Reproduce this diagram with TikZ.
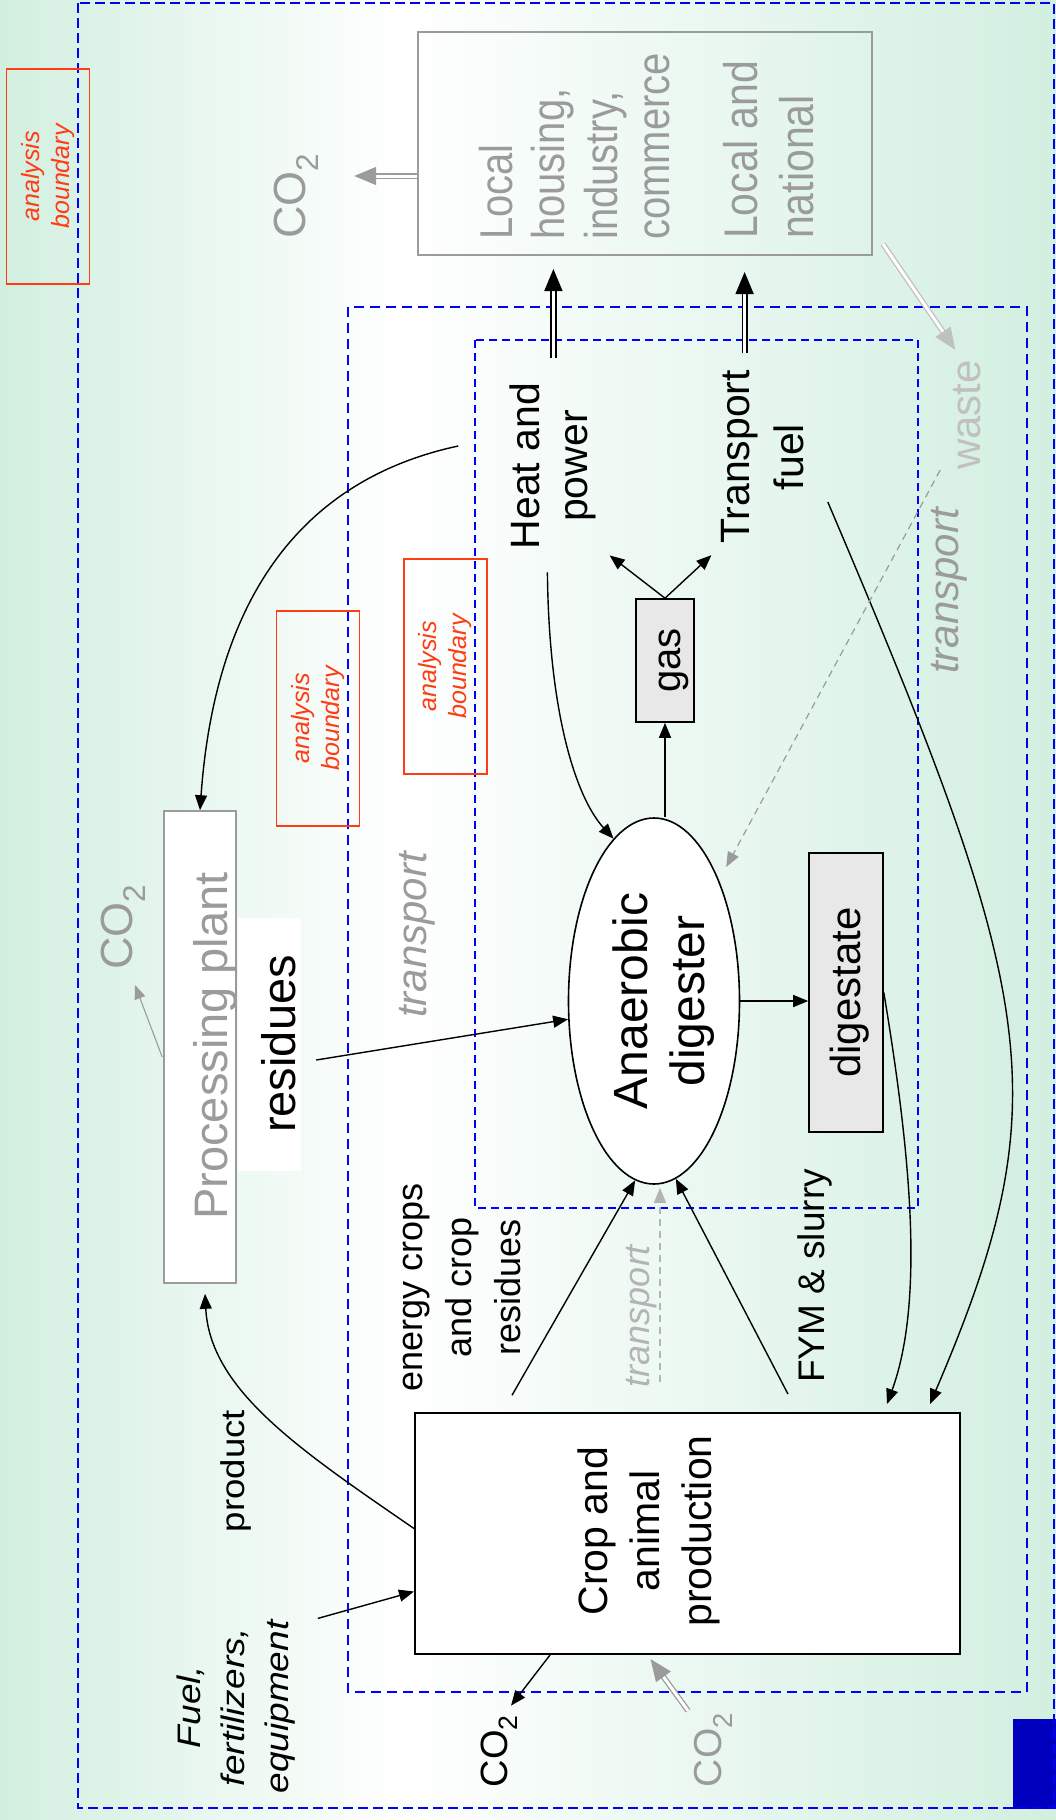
\documentclass[tikz,border=0pt]{standalone}
\usepackage{fontspec}
\setmainfont{Liberation Sans}
\usepackage{graphicx}
\usetikzlibrary{arrows.meta,shapes.geometric,calc}

\definecolor{bggreen}{RGB}{210,239,224}
\definecolor{bndblue}{RGB}{0,0,255}
\definecolor{bndred}{RGB}{255,60,20}
\definecolor{txtgray}{RGB}{155,155,155}
\definecolor{wastegray}{RGB}{192,192,192}
\definecolor{palegray}{RGB}{180,180,180}
\definecolor{boxgray}{RGB}{232,232,232}
\definecolor{logoblue}{RGB}{0,0,190}

\newcommand{\fsz}[2]{\fontsize{#1}{#2}\selectfont}
\newcommand{\vtext}[2][1]{\rotatebox{90}{\scalebox{1}[#1]{\begin{tabular}{@{}c@{}}#2\end{tabular}}}}
\newcommand{\vtextl}[2][1]{\rotatebox{90}{\scalebox{1}[#1]{\begin{tabular}{@{}l@{}}#2\end{tabular}}}}

\tikzset{
  lbl/.style={inner sep=0pt},
  flow/.style={line width=1.4pt,-{Triangle[length=15pt,width=12pt]}},
  thinflow/.style={draw=txtgray,line width=1.1pt,-{Triangle[length=14pt,width=11pt]}},
  dashflow/.style={flow,draw=txtgray,line width=1.2pt,dash pattern=on 7pt off 5pt},
  dblflow/.style={double=white,double distance=3pt,line width=1.6pt,-{Triangle[length=22pt,width=18pt]}},
  dblgray/.style={dblflow,draw=txtgray,line width=1.3pt},
  dblwaste/.style={dblflow,draw=wastegray,line width=1.3pt},
  bndbox/.style={draw=bndred,line width=1.5pt,minimum width=83pt,minimum height=215pt,
    inner sep=0pt,text=bndred,font=\fsz{25}{30}\itshape},
  outerbnd/.style={draw=bndblue,line width=1.5pt,dash pattern=on 10pt off 5pt},
  midbnd/.style={draw=bndblue,line width=2.5pt,dash pattern=on 10pt off 6pt},
  innerbnd/.style={draw=bndblue,line width=1.6pt,dash pattern=on 8pt off 5pt},
  greybox/.style={draw,fill=boxgray,line width=1.6pt,inner sep=0pt},
}

\begin{document}
\begin{tikzpicture}[x=1pt,y=-1pt]
\useasboundingbox (0,0) rectangle (1056,1820);
% background
\shade[left color=bggreen,right color=white] (0,0) rectangle (400,1820);
\shade[left color=white,right color=bggreen] (400,0) rectangle (1056,1820);
\fill[logoblue] (1013,1719) rectangle (1056,1809);

% analysis boundaries
\draw[outerbnd] (78,3) rectangle (1054,1808);
\draw[midbnd] (348,307) rectangle (1027,1692);
\draw[innerbnd] (475,340) rectangle (918,1208);
\node[bndbox] (bound1) at (48,176.5) {\vtext{analysis\\boundary}};
\node[bndbox] (bound2) at (318,718.5) {\vtext{analysis\\boundary}};
\node[bndbox] (bound3) at (445.5,666.5) {\vtext{analysis\\boundary}};

% users
\node[draw=txtgray,line width=2pt,minimum width=454pt,minimum height=223pt] (local) at (645,143.5) {};
\node[lbl,anchor=south,text=txtgray,font=\fsz{40}{45.5}] (localta) at (580.6,240) {\vtextl[1.15]{Local\\housing,\\industry,\\commerce}};
\node[lbl,anchor=south,text=txtgray,font=\fsz{41}{49}] (localtb) at (774,239) {\vtextl[1.15]{Local and\\national}};
\node[lbl,text=txtgray,font=\fsz{45}{50}] (co2top) at (295,196) {\vtext{CO\textsubscript{2}}};

% digester plant
\node[lbl,font=\fsz{41}{48}] (hp) at (553.4,466) {\vtext{Heat and\\power}};
\node[lbl,font=\fsz{41}{54}] (tf) at (765.6,457) {\vtext{Transport\\fuel}};
\node[lbl,text=wastegray,font=\fsz{42}{48}] (waste) at (970.4,415) {\vtext{waste}};
\node[lbl,text=txtgray,font=\fsz{42}{48}\itshape] (trright) at (948.4,591) {\vtext{transport}};
\node[greybox,minimum width=58pt,minimum height=123pt] (gas) at (665,660.5) {};
\node[lbl,font=\fsz{40}{48}] (gast) at (671,660.5) {\vtext{gas}};
\node[draw,ellipse,fill=white,line width=1.6pt,inner sep=0pt,minimum width=171pt,minimum height=366pt] (ad) at (654,1001) {};
\node[lbl,font=\fsz{48}{57}] (adt) at (665,1001) {\vtext{Anaerobic\\digester}};
\node[greybox,minimum width=74pt,minimum height=279pt] (dig) at (846,992.5) {};
\node[lbl,font=\fsz{42}{48}] (digt) at (851,992.5) {\vtext{digestate}};

% processing
\node[draw=txtgray,fill=white,line width=1.6pt,minimum width=72pt,minimum height=472pt] (proc) at (200,1047) {};
\node[lbl,text=txtgray,font=\fsz{47}{52}] (proct) at (217,1046) {\vtext{Processing plant}};
\node[fill=white,inner sep=0pt,minimum width=63pt,minimum height=253pt] (resbox) at (269.5,1044.5) {};
\node[lbl,font=\fsz{47}{52}] (rest) at (285,1044) {\vtext{residues}};
\node[lbl,text=txtgray,font=\fsz{45}{50}] (co2proc) at (122,927) {\vtext{CO\textsubscript{2}}};
\node[lbl,text=txtgray,font=\fsz{42}{48}\itshape] (trmid) at (417,935) {\vtext{transport}};

% farm
\node[lbl,font=\fsz{36}{49}] (ecr) at (462,1287) {\vtext{energy crops\\and crop\\residues}};
\node[lbl,text=palegray,font=\fsz{36}{44}\itshape] (trbot) at (641,1316) {\vtext{transport}};
\node[lbl,font=\fsz{37}{44}] (fym) at (816,1276) {\vtext{FYM \& slurry}};
\node[draw,fill=white,line width=2pt,minimum width=545pt,minimum height=241pt] (crop) at (687.5,1533.5) {};
\node[lbl,font=\fsz{41}{52}] (cropt) at (649,1531) {\vtext{Crop and\\animal\\production}};
\node[lbl,font=\fsz{36.6}{44}] (product) at (237,1471) {\vtext[0.9]{product}};
\node[lbl,font=\fsz{37}{50}\itshape] (ffe) at (235.6,1707) {\vtext[0.88]{Fuel,\\fertilizers,\\equipment}};
\node[lbl,font=\fsz{38}{44}] (co2a) at (499,1751) {\vtext{CO\textsubscript{2}}};
\node[lbl,text=txtgray,font=\fsz{39}{44}] (co2b) at (713,1750) {\vtext{CO\textsubscript{2}}};

% flows
\draw[dblgray] ($(local.west)+(0,32.5)$) -- ($(co2top.east)+(34,-20)$);
\draw[dblflow,shorten <=25pt,shorten >=13pt] (hp.north) -- (hp.north |- local.south);
\draw[dblflow,shorten <=17pt,shorten >=16pt] ($(tf.north)+(-21,0)$) -- ($(tf.north |- local.south)+(-21,0)$);
\draw[dblwaste] ($(local.south east)+(10,-12)$) -- ($(waste.north)+(-15,-10)$);
\draw[flow] (gas.north) -- ($(hp.south east)+(8,6)$);
\draw[flow] (gas.north) -- ($(tf.south west)+(0,11)$);
\draw[flow] (gas.south |- ad.north) -- (gas.south);
\draw[flow] ($(hp.south)+(-6,23)$) .. controls (549,720) and (578,800) .. (ad.104);
\draw[flow] ($(hp.west)+(-47,-20)$) .. controls (300,480) and (215,600) .. (proc.north);
\draw[flow] ($(tf.east)+(8,45)$) .. controls (1040,1000) and (1060,1100) .. ($(crop.north east)+(-31,-8)$);
\draw[dashflow,shorten >=15pt] ($(waste.south west)+(-6,0)$) -- (ad);
\draw[flow] (ad.east) -- (ad.east -| dig.west);
\draw[flow] ($(resbox.east)+(15,15.5)$) -- (ad.192);
\draw[flow] ($(ecr.south)+(50,4)$) -- (ad.264);
\draw[dashflow,draw=palegray] ($(ad.south |- crop.north)+(6,-30)$) -- ($(ad.south)+(6,3)$);
\draw[flow] ($(fym.south)+(-28,11)$) -- (ad.277);
\draw[flow] (dig.east) .. controls (910,1150) and (925,1300) .. ($(crop.north east)+(-74,-8)$);
\draw[flow] ($(crop.west)+(0,-5)$) .. controls (300,1450) and (210,1390) .. ($(proc.south)+(5,10)$);
\draw[flow] ($(ffe.north east)+(16,-2)$) -- ($(crop.west)+(0,58)$);
\draw[flow] ($(crop.south west)+(136,0)$) -- ($(co2a.north)+(12,-9)$);
\draw[dblgray] ($(co2b.north)+(-25,-2)$) -- ($(crop.south)+(-37,4)$);
\draw[thinflow] ($(proc.west)+(-1,10)$) -- ($(co2proc.south)+(13,15)$);
\end{tikzpicture}
\end{document}
